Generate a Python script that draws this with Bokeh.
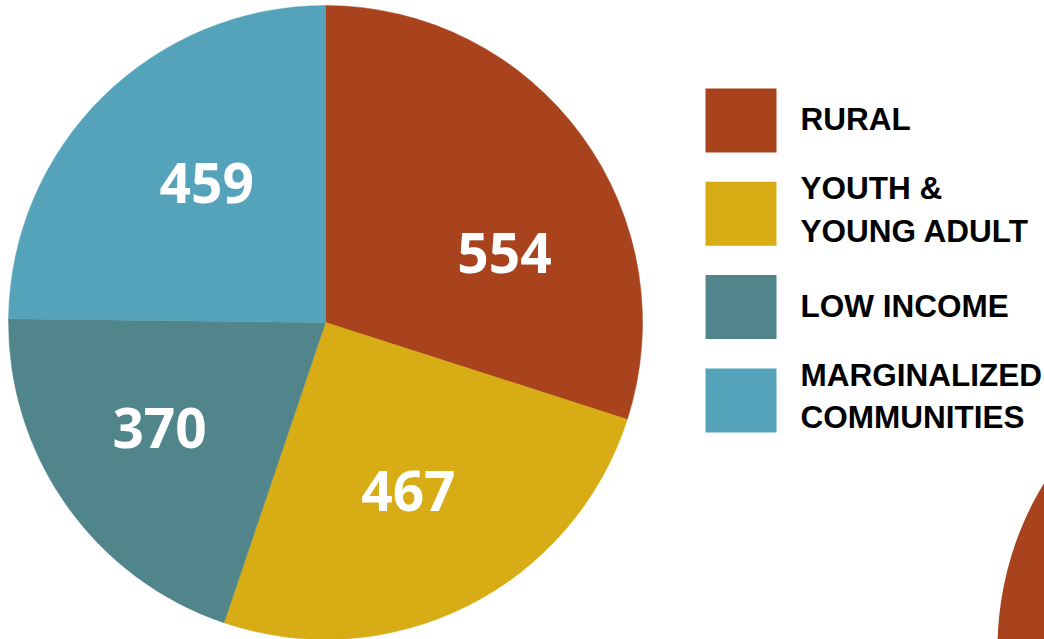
import numpy as np
from bokeh.plotting import figure
from bokeh.models import Range1d, ColumnDataSource
from bokeh.core.properties import value
from bokeh.embed import file_html
from bokeh.resources import INLINE

# ---- data ----
categories = ["RURAL", "YOUTH &\nYOUNG ADULT", "LOW INCOME", "MARGINALIZED\nCOMMUNITIES"]
counts = [554, 467, 370, 459]
colors = ["#A9431E", "#D7AC14", "#50858C", "#54A3BA"]

# ---- style / layout (pixel-like coordinates, y flipped) ----
CX, CY, R = 325, 322, 317
label_r = [192, 188, 197, 183]
label_shift_deg = [-14.9, -0.6, -2.7, -4.2]

W, H = 1044, 639
p = figure(width=W, height=H, output_backend="svg", toolbar_location=None,
           x_range=Range1d(0, W), y_range=Range1d(-H, 0),
           min_border=0, min_border_left=0, min_border_right=0,
           min_border_top=0, min_border_bottom=0)
p.axis.visible = False
p.grid.visible = False
p.outline_line_color = None
p.background_fill_color = "white"
p.border_fill_color = "white"

vals = np.array(counts, dtype=float)
frac = vals / vals.sum()
cum = np.concatenate([[0], np.cumsum(frac)])
ang_start = np.pi / 2 - cum[1:] * 2 * np.pi
ang_end = np.pi / 2 - cum[:-1] * 2 * np.pi

src = ColumnDataSource(dict(start=ang_start, end=ang_end, color=colors))
p.wedge(x=CX, y=-CY, radius=R, start_angle="start", end_angle="end",
        fill_color="color", line_color="color", line_width=0.5, source=src)

# decorative partial circle at bottom right
p.circle(x=[1314], y=[-648], radius=317, fill_color=colors[0], line_color=None)

# value labels
mid = (ang_start + ang_end) / 2 + np.radians(label_shift_deg)
lx = CX + np.array(label_r) * np.cos(mid)
ly = -CY + np.array(label_r) * np.sin(mid)
p.text(x=lx, y=ly + 0.5, text=[str(c) for c in counts],
       text_font=value("Open Sans"), text_font_style="bold",
       text_font_size="55px", text_color="white",
       text_align="center", text_baseline="alphabetic")

# legend
sq_x0, sq_w, sq_h = 705, 71, 64
pitch = 93.3
tx, ty, tt = [], [], []
for i, cat in enumerate(categories):
    yc = 120 + i * pitch
    p.rect(x=[sq_x0 + sq_w / 2], y=[-yc], width=sq_w, height=sq_h,
           fill_color=colors[i], line_color=None)
    lines = cat.split("\n")
    if len(lines) == 1:
        tx.append(800); ty.append(-(yc - 1.5)); tt.append(lines[0])
    else:
        tx.append(800); ty.append(-(yc - 25.5)); tt.append(lines[0])
        tx.append(800); ty.append(-(yc + 17)); tt.append(lines[1])
p.text(x=tx, y=ty, text=tt, text_font=value("Liberation Sans"),
       text_font_style="bold", text_font_size="31.5px", text_color="black",
       text_align="left", text_baseline="alphabetic")

open("out.html", "w").write(file_html(p, INLINE))
